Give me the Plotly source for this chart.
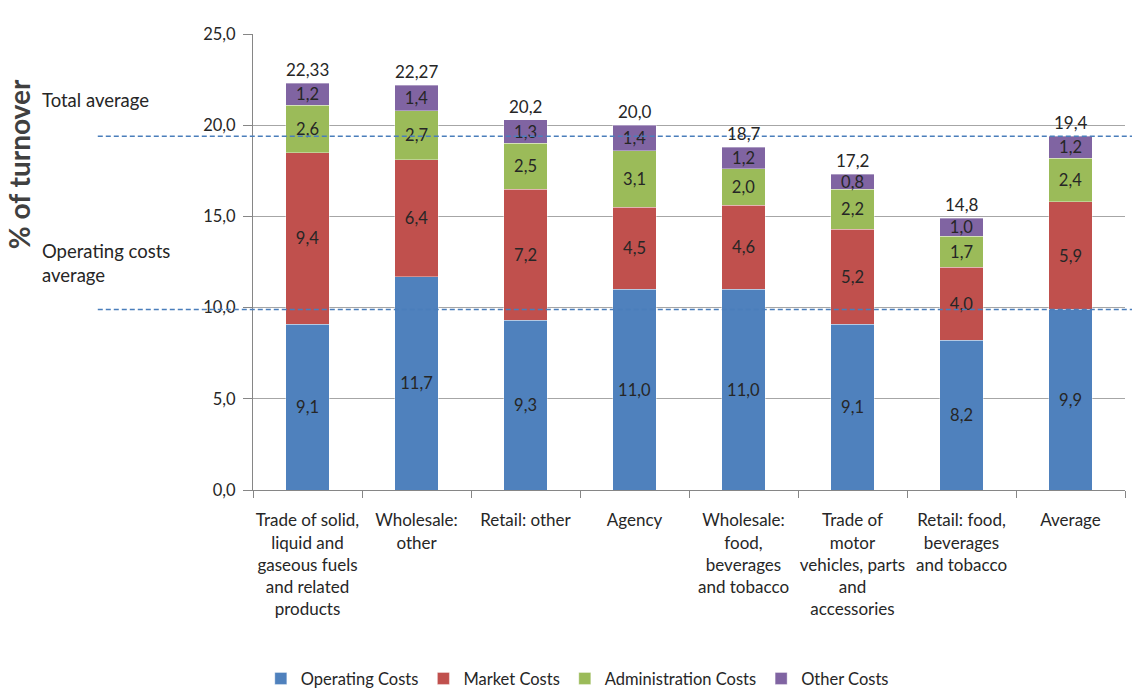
import plotly.graph_objects as go

# Cost structure by trade branch, as % of turnover
categories = [
    "Trade of solid,<br>liquid and<br>gaseous fuels<br>and related<br>products",
    "Wholesale:<br>other",
    "Retail: other",
    "Agency",
    "Wholesale:<br>food,<br>beverages<br>and tobacco",
    "Trade of<br>motor<br>vehicles, parts<br>and<br>accessories",
    "Retail: food,<br>beverages<br>and tobacco",
    "Average",
]
operating_costs = [9.1, 11.7, 9.3, 11.0, 11.0, 9.1, 8.2, 9.9]
market_costs = [9.4, 6.4, 7.2, 4.5, 4.6, 5.2, 4.0, 5.9]
administration_costs = [2.6, 2.7, 2.5, 3.1, 2.0, 2.2, 1.7, 2.4]
other_costs = [1.2, 1.4, 1.3, 1.4, 1.2, 0.8, 1.0, 1.2]
total_labels = ["22,33", "22,27", "20,2", "20,0", "18,7", "17,2", "14,8", "19,4"]

total_average = 19.4
operating_average = 9.9

series = [
    ("Operating Costs", operating_costs, "#4F81BD"),
    ("Market Costs", market_costs, "#C0504D"),
    ("Administration Costs", administration_costs, "#9BBB59"),
    ("Other Costs", other_costs, "#8064A2"),
]

FONT = "Lato, 'Open Sans', sans-serif"
TEXT = "#262626"

fig = go.Figure()
for name, vals, color in series:
    fig.add_trace(go.Bar(
        name=name,
        x=categories,
        y=vals,
        marker=dict(color=color, line=dict(color="rgba(255,255,255,0.35)", width=1)),
        texttemplate="%{y:.1f}",
        textposition="inside",
        insidetextanchor="middle",
        textangle=0,
        textfont=dict(family=FONT, size=16.5, color=TEXT),
    ))

# Totals above each stack
stack_tops = [sum(v) for v in zip(operating_costs, market_costs, administration_costs, other_costs)]
for cat, top, lbl in zip(categories, stack_tops, total_labels):
    fig.add_annotation(x=cat, y=top, text=lbl, showarrow=False, yanchor="bottom",
                       yshift=1, font=dict(family=FONT, size=17, color=TEXT))

# Dashed reference lines for the averages
for level in (total_average, operating_average):
    fig.add_shape(type="line", xref="paper", yref="y", x0=-0.178, x1=1.01,
                  y0=level, y1=level,
                  line=dict(color="#4A7EBB", width=1.5, dash="5px,3px"))

fig.add_annotation(xref="paper", yref="paper", x=-0.244, y=0.855,
                   xanchor="left", yanchor="middle",
                   text="Total average", showarrow=False,
                   font=dict(family=FONT, size=18.5, color=TEXT))
fig.add_annotation(xref="paper", yref="paper", x=-0.244, y=0.497,
                   xanchor="left", yanchor="middle",
                   align="left", text="Operating costs<br>average", showarrow=False,
                   font=dict(family=FONT, size=18.5, color=TEXT))
fig.add_annotation(xref="paper", yref="paper", x=-0.268, y=0.715,
                   xanchor="center", yanchor="middle", textangle=-90,
                   text="<b>% of turnover</b>", showarrow=False,
                   font=dict(family=FONT, size=28, color="#404040"))

fig.update_layout(
    barmode="stack",
    bargap=0.6,
    width=1132,
    height=699,
    margin=dict(l=253, r=7, t=34, b=209, autoexpand=False),
    paper_bgcolor="white",
    plot_bgcolor="white",
    separators=", ",
    font=dict(family=FONT, size=15, color=TEXT),
    uniformtext=dict(mode="show", minsize=16.5),
    showlegend=True,
    legend=dict(orientation="h", xref="container", yref="container",
                x=0.51, xanchor="center", y=0.029, yanchor="middle",
                font=dict(family=FONT, size=16.5, color=TEXT), traceorder="normal",
                itemwidth=30),
)
fig.update_yaxes(range=[0, 25], dtick=5, tickformat=".1f", showgrid=True,
                 gridcolor="#A6A6A6", gridwidth=1, showline=True, linecolor="#868686",
                 ticks="outside", ticklen=9, tickcolor="#868686", ticklabelstandoff=4,
                 tickfont=dict(family=FONT, size=16.5, color=TEXT), zeroline=False,
                 automargin=False)
fig.update_xaxes(showline=True, linecolor="#868686", ticks="outside", ticklen=7,
                 tickcolor="#868686", tickson="boundaries", ticklabelstandoff=15,
                 tickfont=dict(family=FONT, size=17, color=TEXT), tickangle=0,
                 automargin=False)

fig.write_html("out.html")
